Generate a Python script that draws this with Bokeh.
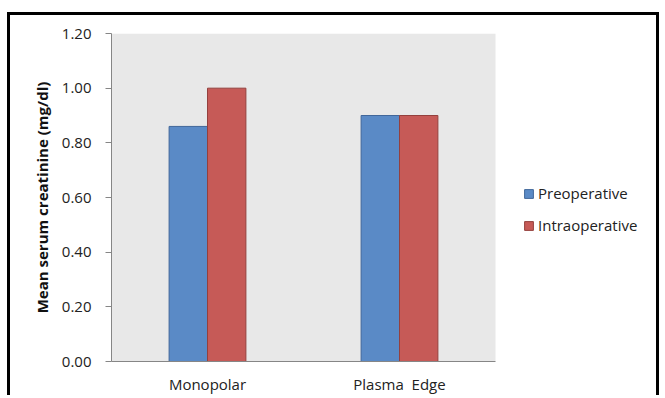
from bokeh.plotting import figure
from bokeh.models import (Range1d, Legend, LegendItem,
                          FixedTicker, NumeralTickFormatter, ColumnDataSource)
from bokeh.embed import file_html
from bokeh.resources import INLINE

categories = ["Monopolar", "Plasma  Edge"]
preoperative = [0.86, 0.90]
intraoperative = [1.00, 0.90]
series_names = ["Preoperative", "Intraoperative"]
y_ticks = [0.0, 0.2, 0.4, 0.6, 0.8, 1.0, 1.2]
y_max = 1.2

FONT = "Open Sans"
BLUE, BLUE_EDGE = "#5A8AC6", "#41679A"
RED, RED_EDGE = "#C65A57", "#94403D"
PLOT_BG = "#E8E8E8"

n = len(categories)
centers = [i + 0.5 for i in range(n)]
bar_w = 0.2

src = ColumnDataSource(dict(
    cat=categories,
    x_pre=[c - bar_w / 2 for c in centers],
    x_intra=[c + bar_w / 2 for c in centers],
    pre=preoperative, intra=intraoperative))

# layout: canvas 652x383; plot area (categories) 384 px wide, frame extended to host legend
W, H = 652, 383
LEFT, RIGHT, TOP, BOTTOM = 101, 12, 18, 37
frame_w = W - LEFT - RIGHT
x_end = n * frame_w / 384.0

p = figure(width=W, height=H, x_range=Range1d(0, x_end), y_range=Range1d(0, y_max),
           output_backend="svg", toolbar_location=None,
           min_border_left=LEFT, min_border_right=RIGHT, min_border_top=TOP, min_border_bottom=BOTTOM)
p.styles = {"border-left": "3px solid black", "border-top": "3px solid black",
            "border-right": "3px solid black", "margin-left": "7px", "margin-top": "12px"}

p.background_fill_color = "white"
p.border_fill_color = "white"
p.outline_line_color = None
p.xgrid.grid_line_color = None
p.ygrid.grid_line_color = None

# gray plot area
p.quad(left=[0], right=[n], bottom=[0], top=[y_max], fill_color=PLOT_BG, line_color=None)

r1 = p.vbar(x="x_pre", top="pre", width=bar_w, source=src,
            fill_color=BLUE, line_color=BLUE_EDGE, line_width=1)
r2 = p.vbar(x="x_intra", top="intra", width=bar_w, source=src,
            fill_color=RED, line_color=RED_EDGE, line_width=1)

# y axis
p.yaxis.ticker = FixedTicker(ticks=y_ticks)
p.yaxis.formatter = NumeralTickFormatter(format="0.00")
p.yaxis.minor_tick_line_color = None
p.yaxis.major_tick_in = 0
p.yaxis.major_tick_out = 6
p.yaxis.major_tick_line_color = "#868686"
p.yaxis.axis_line_color = "#868686"
p.yaxis.major_label_text_font = FONT
p.yaxis.major_label_text_font_size = "15px"
p.yaxis.major_label_text_color = "#222222"
p.yaxis.major_label_standoff = 14
p.yaxis.axis_label = "Mean serum creatinine (mg/dl)"
p.yaxis.axis_label_text_font = FONT
p.yaxis.axis_label_text_font_size = "15px"
p.yaxis.axis_label_text_font_style = "bold"
p.yaxis.axis_label_text_color = "#111111"
p.yaxis.axis_label_standoff = 7

# x axis
p.xaxis.ticker = FixedTicker(ticks=centers)
p.xaxis.major_label_overrides = {c: lab.replace("  ", " \u00a0") for c, lab in zip(centers, categories)}
p.xaxis.bounds = (0, n)
p.xaxis.minor_tick_line_color = None
p.xaxis.major_tick_line_color = None
p.xaxis.major_tick_out = 0
p.xaxis.major_tick_in = 0
p.xaxis.axis_line_color = "#868686"
p.xaxis.major_label_text_font = FONT
p.xaxis.major_label_text_font_size = "15px"
p.xaxis.major_label_text_color = "#222222"
p.xaxis.major_label_standoff = 12

legend = Legend(items=[LegendItem(label=series_names[0], renderers=[r1]),
                       LegendItem(label=series_names[1], renderers=[r2])],
                location=(412, 126), orientation="vertical",
                glyph_width=11, glyph_height=11, label_height=11,
                label_standoff=4, spacing=12, padding=0, margin=0,
                border_line_color=None, background_fill_alpha=0,
                label_text_font=FONT, label_text_font_size="15px",
                label_text_color="#222222")
p.add_layout(legend)

open("out.html", "w").write(file_html(p, INLINE))
